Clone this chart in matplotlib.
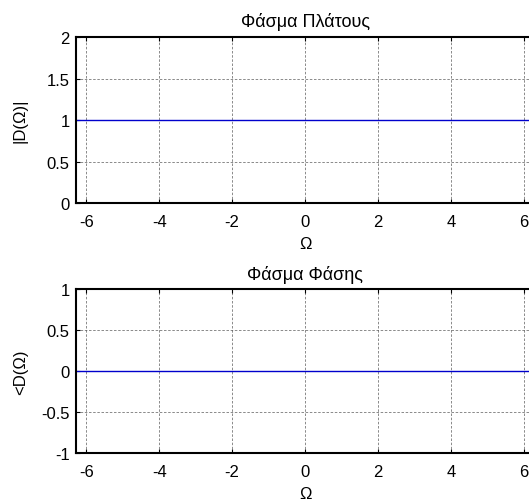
import numpy as np
import matplotlib
matplotlib.use('Agg')
import matplotlib.pyplot as plt

plt.rcParams['font.family'] = ['Liberation Sans', 'DejaVu Sans']
plt.rcParams['font.size'] = 12
plt.rcParams['axes.unicode_minus'] = False

# spectrum of d[n] = delta[n]: flat magnitude, zero phase over [-2pi, 2pi]
omega = [-2*np.pi, 2*np.pi]
magnitude = [1, 1]
phase = [0, 0]

xticks = [-6, -4, -2, 0, 2, 4, 6]

fig = plt.figure(figsize=(5.29, 5.02), dpi=100)
ax1 = fig.add_axes([0.1437, 0.5936, 0.866, 0.3307])
ax2 = fig.add_axes([0.1437, 0.0956, 0.866, 0.3267])

def style(ax, yticks, ylim):
    ax.set_xlim(-2*np.pi, 2*np.pi)
    ax.set_ylim(*ylim)
    ax.set_xticks(xticks)
    ax.set_yticks(yticks)
    ax.set_yticklabels(['%g' % v for v in yticks])
    ax.grid(True, color='#555555', linestyle=(0, (3, 2)), linewidth=0.6, alpha=0.8)
    ax.tick_params(direction='in', length=3, width=0.8, top=True, right=True)
    ax.tick_params(axis='x', pad=7.7)
    ax.tick_params(axis='y', pad=4.5)
    for s in ax.spines.values():
        s.set_linewidth(1.5)
    ax.yaxis.set_label_coords(-0.105, 0.5)

ax1.plot(omega, magnitude, color='#0000cc', linewidth=1)
style(ax1, [0, 0.5, 1, 1.5, 2], (0, 2))
ax1.set_title('Φάσμα Πλάτους', fontsize=13, pad=8)
ax1.set_xlabel('Ω', labelpad=5.5)
ax1.set_ylabel('|D(Ω)|')

ax2.plot(omega, phase, color='#0000cc', linewidth=1)
style(ax2, [-1, -0.5, 0, 0.5, 1], (-1, 1))
ax2.set_title('Φάσμα Φάσης', fontsize=13, pad=7)
ax2.set_xlabel('Ω', labelpad=5.5)
ax2.set_ylabel('<D(Ω)')

fig.savefig('out.png', dpi=100)
